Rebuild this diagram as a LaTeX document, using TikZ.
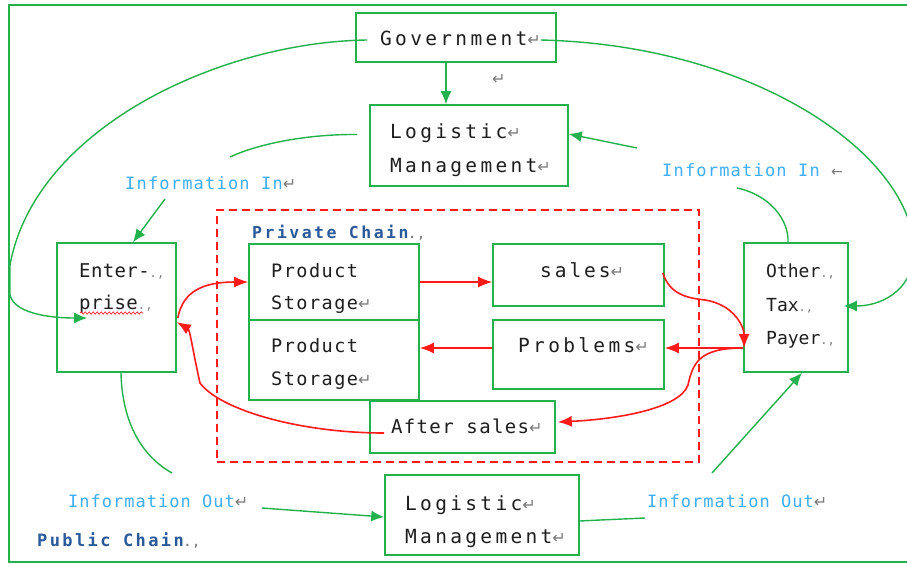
\documentclass[tikz,border=0pt]{standalone}
\usepackage{fontspec}
\setmainfont{DejaVu Sans Mono}
\newfontfamily\symf{DejaVu Sans}
\usetikzlibrary{arrows.meta,calc,decorations.pathmorphing}
\definecolor{gr}{HTML}{22B14C}
\definecolor{rd}{HTML}{FF1A1A}
\definecolor{lb}{HTML}{3DAEF5}
\definecolor{db}{HTML}{2B5A9A}
\definecolor{tx}{HTML}{1E1E1E}
\definecolor{mk}{HTML}{7A7A7A}
\newcommand{\rt}{{\symf\fontsize{16}{16}\selectfont\color{mk}↵}}
\newcommand{\lt}{{\symf\fontsize{14}{14}\selectfont\color{mk}←}}
\newcommand{\dotmk}{{\fontsize{12}{12}\selectfont\color{mk}.,}}
\newcommand{\fz}[2]{\fontsize{#1}{#1}\selectfont\addfontfeatures{LetterSpace=#2}}
\tikzset{
  box/.style={draw=gr, line width=1.6pt, rectangle, inner sep=0pt},
  txt/.style={inner sep=0pt, anchor=base west, text=tx},
  mainf/.style={font=\fz{19.5}{17}},
  blue/.style={inner sep=0pt, anchor=base west, text=lb, font=\fz{17}{7}},
  ttl/.style={inner sep=0pt, anchor=base west, text=db, font=\bfseries\fz{16.5}{15}},
  gline/.style={gr, line width=1.4pt},
  garr/.style={gr, line width=1.4pt, -{Latex[length=13pt,width=11pt]}},
  rarr/.style={rd, line width=1.6pt, -{Latex[length=14pt,width=11pt]}},
}
\begin{document}
\begin{tikzpicture}[x=1pt,y=-1pt]
\useasboundingbox (0,0) rectangle (907,563);
\path[fill=white] (0,0) rectangle (907,563);
% outer frame
\draw[gr, line width=1.5pt] (9,5) rectangle (930,562);
% private chain
\node[draw=rd, dashed, dash pattern=on 8pt off 5pt, line width=1.3pt, rectangle, inner sep=0pt,
      minimum width=482pt, minimum height=252pt] (priv) at (458,336) {};
% boxes
\node[box, minimum width=200pt, minimum height=49pt] (gov) at (456,37.5) {};
\node[box, minimum width=198pt, minimum height=81pt] (lmtop) at (469,145.5) {};
\node[box, minimum width=119pt, minimum height=129pt] (ent) at (116.5,307.5) {};
\node[box, minimum width=170pt, minimum height=76pt] (ps1) at (334,282) {};
\node[box, minimum width=170pt, minimum height=80pt] (ps2) at (334,360) {};
\node[box, minimum width=171pt, minimum height=62pt] (sales) at (578.5,275) {};
\node[box, minimum width=171pt, minimum height=69pt] (prob) at (578.5,354.5) {};
\node[box, minimum width=185pt, minimum height=52pt] (after) at (462.5,427) {};
\node[box, minimum width=104pt, minimum height=129pt] (other) at (796,307.5) {};
\node[box, minimum width=194pt, minimum height=80pt] (lmbot) at (482,515) {};
% texts
\node[txt, mainf] (govT) at (380,45) {Government\rt};
\node[txt] (mk1) at (492,84) {\rt};
\node[txt, mainf] (lmtopA) at (390,138) {Logistic\rt};
\node[txt, mainf] (lmtopB) at (390,172) {Management\rt};
\node[blue] (inL) at (125,189) {Information In\rt};
\node[blue] (inR) at (662,176) {Information In \lt};
\node[txt, font=\fz{19}{2}] (entA) at (79,277) {Enter-\dotmk};
\node[txt, font=\fz{19}{2}] (entB) at (79,309) {prise\dotmk};
\node[ttl] (privT) at (252,238) {Private Chain\dotmk};
\node[txt, font=\fz{18.5}{8}] (ps1A) at (271,277) {Product};
\node[txt, font=\fz{18.5}{8}] (ps1B) at (271,309) {Storage\rt};
\node[txt, font=\fz{18.5}{8}] (ps2A) at (271,352) {Product};
\node[txt, font=\fz{18.5}{8}] (ps2B) at (271,385) {Storage\rt};
\node[txt, font=\fz{19.5}{15}] (salesT) at (540,277) {sales\rt};
\node[txt, mainf] (probT) at (518,352) {Problems\rt};
\node[txt, font=\fz{18}{0}] (otA) at (766,277) {Other\dotmk};
\node[txt, font=\fz{18}{0}] (otB) at (766,311) {Tax\dotmk};
\node[txt, font=\fz{18}{0}] (otC) at (766,344) {Payer\dotmk};
\node[txt, font=\fz{19}{7}] (afterT) at (391,433) {After sales\rt};
\node[blue, font=\fz{17}{6}] (outL) at (68,507) {Information Out\rt};
\node[blue, font=\fz{17}{6}] (outR) at (647,507) {Information Out\rt};
\node[ttl, font=\bfseries\fz{17}{14}] (pubT) at (37,546) {Public Chain\dotmk};
\node[txt, mainf] (lmbotA) at (405,510) {Logistic\rt};
\node[txt, mainf] (lmbotB) at (405,543) {Management\rt};
% spelling underline
\draw[rd, line width=0.6pt, decorate, decoration={snake, amplitude=1.2pt, segment length=4pt}]
  ($(entB.base west)+(1,4)$) -- ++(63,0);
% free ends
\coordinate (c1) at (230,157);
\coordinate (c2) at (165,199);
\coordinate (c3) at (637,148);
\coordinate (c4) at (737,188);
\coordinate (c5) at (172,473);
\coordinate (c6) at (262,508);
\coordinate (c7) at (645,518);
\coordinate (c8) at (712,473);
% green connectors
\draw[garr] ([xshift=-10pt]gov.south) -- ([xshift=-10pt]gov.south |- lmtop.north);
\draw[garr] ($(gov.west)+(12,2.5)$) .. controls (220,42) and (35,128) .. (10,265) -- (10,295)
  .. controls (14,312) and (45,318) .. ($(ent.west)+(31,10.5)$);
\draw[garr] ($(gov.east)+(-16,2.5)$) .. controls (760,45) and (918,160) .. (914,255)
  .. controls (911,292) and (880,306) .. ($(other.east)+(-5,-1.5)$);
\draw[gline] ($(lmtop.west)+(-12,-11)$) .. controls (310,134) and (260,143) .. (c1);
\draw[garr] (c2) -- ($(ent.north)+(16.5,0)$);
\draw[garr] (c3) -- ($(lmtop.east)+(0,-11.5)$);
\draw[gline] (c4) .. controls (770,195) and (789,220) .. ($(other.north)+(-8,0)$);
\draw[gline] ($(ent.south)+(4.5,0)$) .. controls (122,420) and (140,455) .. (c5);
\draw[garr] (c6) -- ($(lmbot.west)+(0,2)$);
\draw[gline] ($(lmbot.east)+(0,6)$) .. controls (600,520) .. (c7);
\draw[garr] (c8) -- ($(other.south)+(6,0)$);
% red connectors
\draw[rarr] (ps1.east) -- (ps1.east -| sales.west);
\coordinate (p1) at ($(prob.west)+(0,-6.5)$);
\draw[rarr] (p1) -- (p1 -| ps2.east);
\draw[rarr] ($(ent.east)+(1,10.5)$) .. controls (183,290) and (205,282) .. (ps1.west);
\draw[rarr] ($(after.west)+(15,6)$) .. controls (300,433) and (220,410) .. (200,383)
  .. controls (193,352) and (190,330) .. ($(ent.east)+(0,14.5)$);
\draw[rarr] ($(sales.east)+(-2,-2)$) .. controls (670,295) and (688,298) .. (705,300)
  .. controls (732,304) and (744,325) .. ($(other.west)+(1,40.5)$);
\coordinate (p2) at ($(other.west)+(0,40.5)$);
\draw[rarr] (p2) -- (p2 -| prob.east);
\draw[rarr] (p2) .. controls (700,348) and (693,362) .. (688,385)
  .. controls (680,408) and (620,419) .. ($(after.east)+(2,-5)$);
\end{tikzpicture}
\end{document}
